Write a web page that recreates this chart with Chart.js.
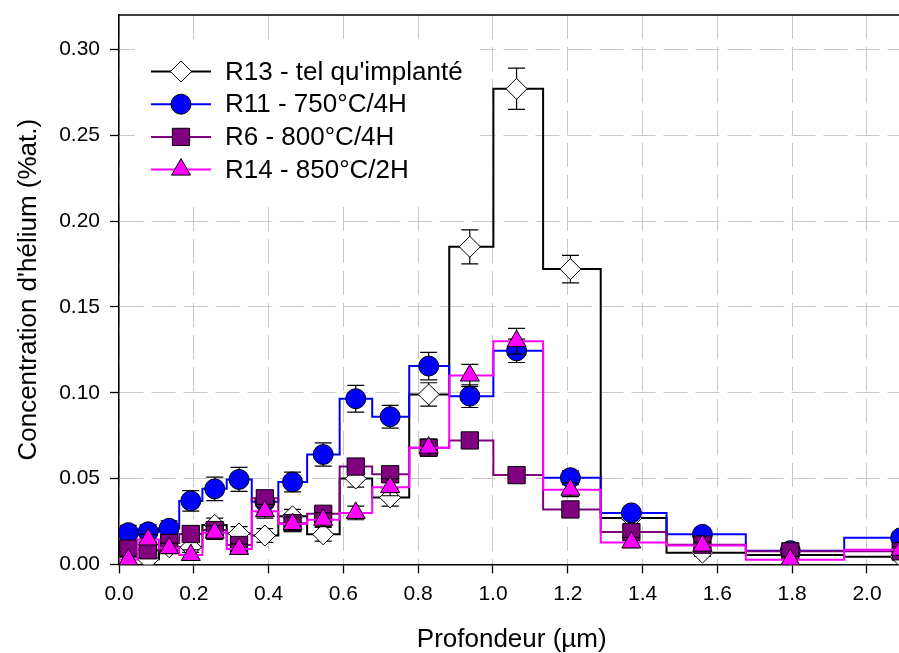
<!DOCTYPE html>
<html>
<head>
<meta charset="utf-8">
<title>Concentration d'hélium</title>
<script src="https://cdn.jsdelivr.net/npm/chart.js@4.4.1/dist/chart.umd.min.js"></script>
<style>
  html, body { margin: 0; padding: 0; background: #ffffff; overflow: hidden; }
  #wrap { width: 899px; height: 653px; overflow: hidden; }
  canvas { display: block; }
</style>
</head>
<body>
<div id="wrap"><canvas id="c" width="920" height="653"></canvas></div>
<script>
// Depth bins (µm): edges of the histogram steps and the bin centres carrying the symbols
const binEdges = [0, 0.05, 0.107, 0.161, 0.223, 0.288, 0.355, 0.426, 0.503, 0.590, 0.677,
                  0.776, 0.883, 1.001, 1.134, 1.288, 1.464, 1.676, 1.939, 2.23];
const depth = [0.025, 0.078, 0.134, 0.192, 0.256, 0.321, 0.390, 0.464, 0.546, 0.633, 0.725,
               0.828, 0.938, 1.063, 1.207, 1.370, 1.560, 1.795, 2.090];

// Helium concentration (%at.) and uncertainty per bin
const r13 = [0.009, 0.003, 0.010, 0.010, 0.023, 0.018, 0.0168, 0.028, 0.0175, 0.050, 0.039,
             0.099, 0.185, 0.277, 0.172, 0.027, 0.0068, 0.0055, 0.0045];
const r13Err = [0.003, 0.003, 0.003, 0.003, 0.004, 0.004, 0.004, 0.004, 0.004, 0.005, 0.005,
                0.0068, 0.0099, 0.012, 0.008, 0.004, 0.002, 0.002, 0.002];

const r11 = [0.0185, 0.019, 0.021, 0.037, 0.044, 0.0495, 0.0365, 0.048, 0.064, 0.0965, 0.086,
             0.1155, 0.098, 0.1244, 0.0505, 0.030, 0.0175, 0.008, 0.0155];
const r11Err = [0.0043, 0.004, 0.0044, 0.006, 0.0068, 0.007, 0.006, 0.0058, 0.0068, 0.0078, 0.0066,
                0.008, 0.0066, 0.0068, 0.004, 0.003, 0.002, 0.002, 0.002];

const r6 = [0.0092, 0.0082, 0.0125, 0.0177, 0.020, 0.0113, 0.0385, 0.024, 0.0295, 0.057, 0.0525,
            0.068, 0.0722, 0.052, 0.032, 0.0188, 0.0115, 0.0076, 0.0076];
const r6Err = [0.003, 0.003, 0.003, 0.003, 0.003, 0.003, 0.003, 0.003, 0.003, 0.004, 0.004,
               0.004, 0.004, 0.004, 0.003, 0.003, 0.002, 0.002, 0.002];

const r14 = [0.0028, 0.0145, 0.0094, 0.0055, 0.0185, 0.009, 0.031, 0.0235, 0.026, 0.030, 0.045,
             0.068, 0.110, 0.130, 0.0435, 0.0128, 0.011, 0.0027, 0.0085];
const r14Err = [0.002, 0.003, 0.003, 0.003, 0.004, 0.003, 0.004, 0.004, 0.004, 0.004, 0.005,
                0.005, 0.0065, 0.0075, 0.004, 0.003, 0.002, 0.002, 0.002];

const seriesNames = ["R13 - tel qu'implanté", "R11 - 750°C/4H", "R6 - 800°C/4H", "R14 - 850°C/2H"];

const xTickValues = [0, 0.2, 0.4, 0.6, 0.8, 1.0, 1.2, 1.4, 1.6, 1.8, 2.0];
const yTickValues = [0, 0.05, 0.10, 0.15, 0.20, 0.25, 0.30];

const FONT = "'Liberation Sans', Arial, Helvetica, sans-serif";

const series = [
  { label: seriesNames[0], values: r13, errors: r13Err, color: '#000000', fill: '#ffffff', style: 'rectRot',  radius: 10.5 },
  { label: seriesNames[1], values: r11, errors: r11Err, color: '#0000ff', fill: '#0000ff', style: 'circle',   radius: 10 },
  { label: seriesNames[2], values: r6,  errors: r6Err,  color: '#800080', fill: '#800080', style: 'rect',     radius: 12.2 },
  { label: seriesNames[3], values: r14, errors: r14Err, color: '#ff00ff', fill: '#ff00ff', style: 'triangle', radius: 11 }
];

// Each sample: a stepped histogram line plus symbols at the bin centres
const datasets = [];
series.forEach((s, k) => {
  const steps = s.values.map((v, i) => ({ x: binEdges[i], y: v }));
  steps.push({ x: binEdges[s.values.length], y: s.values[s.values.length - 1] });
  datasets.push({
    type: 'line', label: s.label, data: steps, stepped: 'before',
    borderColor: s.color, borderWidth: 2, pointRadius: 0, pointHoverRadius: 0,
    fill: false, order: 20 - 2 * k
  });
  datasets.push({
    type: 'scatter', label: s.label,
    data: depth.map((d, i) => ({ x: d, y: s.values[i] })),
    pointStyle: s.style, pointRadius: s.radius, pointHoverRadius: s.radius,
    pointBackgroundColor: s.fill, pointBorderColor: '#000000', pointBorderWidth: 1,
    showLine: false, order: 19 - 2 * k, errors: s.errors
  });
});

function drawMarker(ctx, style, x, y, r) {
  ctx.beginPath();
  if (style === 'circle') {
    ctx.arc(x, y, r, 0, Math.PI * 2);
  } else if (style === 'rectRot') {
    ctx.moveTo(x - r, y); ctx.lineTo(x, y - r); ctx.lineTo(x + r, y); ctx.lineTo(x, y + r); ctx.closePath();
  } else if (style === 'rect') {
    const h = r * Math.SQRT1_2;
    ctx.rect(x - h, y - h, 2 * h, 2 * h);
  } else if (style === 'triangle') {
    const a = 2 * Math.PI / 3;
    ctx.moveTo(x, y - r);
    ctx.lineTo(x + r * Math.sin(a), y - r * Math.cos(a));
    ctx.lineTo(x + r * Math.sin(2 * a), y - r * Math.cos(2 * a));
    ctx.closePath();
  }
  ctx.fill();
  ctx.stroke();
}

// Vertical error bars with caps, drawn just beneath each symbol set
const errorBars = {
  id: 'errorBars',
  beforeDatasetDraw(chart, args) {
    const ds = chart.data.datasets[args.index];
    if (!ds.errors) return;
    const ys = chart.scales.y;
    const ctx = chart.ctx;
    ctx.save();
    ctx.strokeStyle = '#000000';
    ctx.lineWidth = 1.2;
    args.meta.data.forEach((pt, i) => {
      const v = ds.data[i].y, e = ds.errors[i];
      const yTop = ys.getPixelForValue(v + e);
      const yBot = ys.getPixelForValue(v - e);
      const x = pt.x;
      ctx.beginPath();
      ctx.moveTo(x, yTop); ctx.lineTo(x, yBot);
      ctx.moveTo(x - 8.5, yTop); ctx.lineTo(x + 8.5, yTop);
      ctx.moveTo(x - 8.5, yBot); ctx.lineTo(x + 8.5, yBot);
      ctx.stroke();
    });
    ctx.restore();
  }
};

// Legend box inside the plot, upper left
const insetLegend = {
  id: 'insetLegend',
  beforeDatasetsDraw(chart) {
    const { ctx, chartArea } = chart;
    ctx.save();
    ctx.fillStyle = '#ffffff';
    ctx.fillRect(chartArea.left + 16, chartArea.top + 24, 345, 161);
    ctx.font = '26px ' + FONT;
    ctx.textBaseline = 'middle';
    ctx.textAlign = 'left';
    series.forEach((s, k) => {
      const cy = chartArea.top + 56.5 + k * 32.7;
      const lx = chartArea.left + 32;
      ctx.strokeStyle = s.color;
      ctx.lineWidth = 2;
      ctx.beginPath(); ctx.moveTo(lx, cy); ctx.lineTo(lx + 60, cy); ctx.stroke();
      ctx.fillStyle = s.fill;
      ctx.strokeStyle = '#000000';
      ctx.lineWidth = 1;
      drawMarker(ctx, s.style, lx + 30, cy, s.radius);
      ctx.fillStyle = '#000000';
      ctx.fillText(s.label, chartArea.left + 106, cy + 1);
    });
    ctx.restore();
  }
};

// Top edge of the plot frame
const topFrame = {
  id: 'topFrame',
  afterDraw(chart) {
    const { ctx, chartArea } = chart;
    ctx.save();
    ctx.strokeStyle = '#000000';
    ctx.lineWidth = 1.5;
    ctx.beginPath();
    ctx.moveTo(chartArea.left, chartArea.top);
    ctx.lineTo(chartArea.right, chartArea.top);
    ctx.stroke();
    ctx.restore();
  }
};

const gridOpts = { color: '#c8c8c8', lineWidth: 1, drawTicks: true, tickLength: 9, tickColor: '#000000', tickWidth: 1.3 };
const borderOpts = { display: true, color: '#000000', width: 1.5, dash: [24, 8] };

new Chart(document.getElementById('c'), {
  type: 'scatter',
  data: { datasets },
  plugins: [errorBars, insetLegend, topFrame],
  options: {
    responsive: false,
    animation: false,
    devicePixelRatio: 1,
    layout: { padding: { left: 0, top: 15, right: 15.6, bottom: 0 } },
    plugins: { legend: { display: false }, tooltip: { enabled: false } },
    events: [],
    scales: {
      x: {
        type: 'linear', min: 0, max: 2.1,
        afterBuildTicks: s => { s.ticks = xTickValues.map(v => ({ value: v })); },
        afterFit: s => { s.height = 88.6; s.paddingLeft = 0; s.paddingRight = 0; },
        grid: gridOpts,
        border: borderOpts,
        ticks: { color: '#000000', font: { family: FONT, size: 21 }, padding: 8, maxRotation: 0, autoSkip: false,
                 callback: v => Number(v).toFixed(1) },
        title: { display: true, text: 'Profondeur (µm)', color: '#000000',
                 font: { family: FONT, size: 26, lineHeight: 1 }, padding: { top: 0, bottom: 0 } }
      },
      y: {
        type: 'linear', min: 0, max: 0.32,
        afterBuildTicks: s => { s.ticks = yTickValues.map(v => ({ value: v })); },
        afterFit: s => { s.width = 119; s.paddingTop = 0; s.paddingBottom = 0; },
        grid: gridOpts,
        border: borderOpts,
        ticks: { color: '#000000', font: { family: FONT, size: 21 }, padding: 10, autoSkip: false,
                 callback: v => Number(v).toFixed(2) },
        title: { display: true, text: "Concentration d'hélium (%at.)", color: '#000000',
                 font: { family: FONT, size: 26, lineHeight: 1 }, padding: { top: 16, bottom: 0 } }
      }
    }
  }
});
</script>
</body>
</html>
